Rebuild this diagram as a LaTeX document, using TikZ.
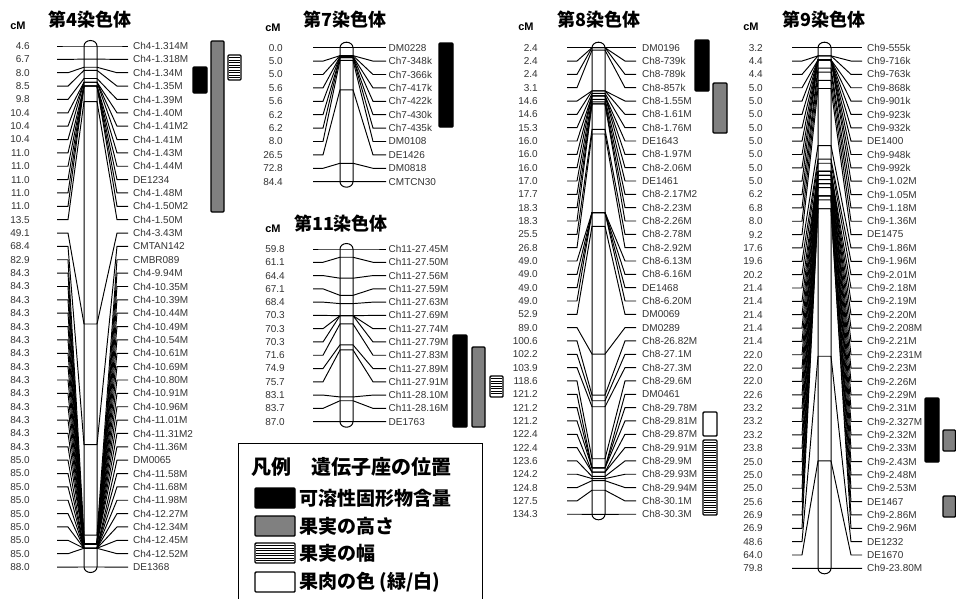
\documentclass[tikz,border=0pt]{standalone}
\usepackage{fontspec}
\setmainfont{Liberation Sans}
\newfontfamily\jpf{Noto Sans CJK JP}
\newcommand\fsz[1]{\fontsize{#1}{#1}\selectfont}
\tikzset{
  conn/.style={line width=0.95pt, draw=black},
  chbar/.style={line width=1pt, draw=black},
  cmlab/.style={font=\fsz{10}, text=black!80, inner sep=0pt, anchor=east},
  mklab/.style={font=\fsz{10}, text=black!80, inner sep=0pt, anchor=west},
  cmhead/.style={font=\fsz{11}\bfseries, inner sep=0pt},
  chtitle/.style={font=\jpf\bfseries\fsz{18}, inner sep=0pt},
  qtlbox/.style={line width=1.4pt, draw=black, rounded corners=1pt},
  blackq/.style={qtlbox, fill=black},
  grayq/.style={qtlbox, fill=black!50},
  whiteq/.style={qtlbox, fill=white},
  legtext/.style={font=\jpf\bfseries\fsz{19}, inner sep=0pt, anchor=west},
}
\newcommand\drawchrom[2]{%
  \foreach \cmv/\mk [count=\i from 0] in {#2} {
    \pgfmathsetmacro\ryy{\Yrow+\i*\Dy}
    \pgfmathsetmacro\byy{\Ybar+(\cmv-\Cmz)*\Slope}
    \draw[conn] (\Xa,\ryy) -- (\Xb,\ryy) -- (\Bl,\byy) -- (\Br,\byy) -- (\Xc,\ryy) -- (\Xd,\ryy);
    \node[cmlab] (#1c\i) at (\Xcm,\ryy) {\cmv};
    \node[mklab] (#1m\i) at (\Xlab,\ryy) {\mk};
  }
  \draw[chbar] (\Bl,\Btop) -- (\Bl,\Bbot)
     arc[start angle=180, end angle=360, x radius=6.5pt, y radius=5.5pt]
     -- (\Br,\Btop)
     arc[start angle=0, end angle=180, x radius=6.5pt, y radius=5.5pt] -- cycle;
}
\newcommand\stripebox[4]{%
  \draw[whiteq] (#1,#2) rectangle (#3,#4);
  \pgfmathtruncatemacro\nst{(#4-#2)/2.5-1}
  \foreach \k in {1,...,\nst} \draw[line width=0.8pt] (#1+1.2,#2+\k*2.5) -- (#3-1.2,#2+\k*2.5);
}
\newcommand\setgeom[8]{\def\Xa{#1}\def\Xb{#2}\def\Bl{#3}\def\Br{#4}\def\Xc{#5}\def\Xd{#6}\def\Xlab{#7}\def\Xcm{#8}}
\newcommand\setscale[6]{\def\Yrow{#1}\def\Dy{#2}\def\Ybar{#1}\def\Cmz{#3}\def\Slope{#4}\def\Btop{#5}\def\Bbot{#6}}
\begin{document}
\begin{tikzpicture}[x=1pt,y=-1pt]
\clip (0,0) rectangle (956,598);
\fill[white] (0,0) rectangle (956,598);

% ---------- Chromosome 4 ----------
\node[chtitle] (t4) at (90,20) {第4染色体};
\node[cmhead] (h4) at (18,26) {cM};
\setgeom{57}{68}{84}{97}{117}{128}{133}{30}
\setscale{46}{13.36}{4.6}{6.247}{46}{567}
\drawchrom{a}{4.6/Ch4-1.314M, 6.7/Ch4-1.318M, 8.0/Ch4-1.34M, 8.5/Ch4-1.35M, 9.8/Ch4-1.39M, 10.4/Ch4-1.40M, 10.4/Ch4-1.41M2, 10.4/Ch4-1.41M, 11.0/Ch4-1.43M, 11.0/Ch4-1.44M, 11.0/DE1234, 11.0/Ch4-1.48M, 11.0/Ch4-1.50M2, 13.5/Ch4-1.50M, 49.1/Ch4-3.43M, 68.4/CMTAN142, 82.9/CMBR089, 84.3/Ch4-9.94M, 84.3/Ch4-10.35M, 84.3/Ch4-10.39M, 84.3/Ch4-10.44M, 84.3/Ch4-10.49M, 84.3/Ch4-10.54M, 84.3/Ch4-10.61M, 84.3/Ch4-10.69M, 84.3/Ch4-10.80M, 84.3/Ch4-10.91M, 84.3/Ch4-10.96M, 84.3/Ch4-11.01M, 84.3/Ch4-11.31M2, 84.3/Ch4-11.36M, 85.0/DM0065, 85.0/Ch4-11.58M, 85.0/Ch4-11.68M, 85.0/Ch4-11.98M, 85.0/Ch4-12.27M, 85.0/Ch4-12.34M, 85.0/Ch4-12.45M, 85.0/Ch4-12.52M, 88.0/DE1368}
\draw[blackq] (193,67) rectangle (207,93);
\draw[grayq] (211,41) rectangle (224,212);
\stripebox{228}{55}{241}{80}

% ---------- Chromosome 7 ----------
\node[chtitle] (t7) at (345,20) {第7染色体};
\node[cmhead] (h7) at (273,28) {cM};
\setgeom{313}{323}{340}{353}{373}{386}{388.5}{283}
\setscale{47.7}{13.4}{0}{1.5877}{47.7}{181.7}
\drawchrom{b}{0.0/DM0228, 5.0/Ch7-348k, 5.0/Ch7-366k, 5.6/Ch7-417k, 5.6/Ch7-422k, 6.2/Ch7-430k, 6.2/Ch7-435k, 8.0/DM0108, 26.5/DE1426, 72.8/DM0818, 84.4/CMTCN30}
\draw[blackq] (439,43) rectangle (453,127);

% ---------- Chromosome 11 ----------
\node[chtitle] (t11) at (341,224) {第11染色体};
\node[cmhead] (h11) at (273,229) {cM};
\setgeom{313}{323}{340}{353}{373}{386}{388.5}{285}
\setscale{249}{13.28}{59.8}{6.349}{249}{421.7}
\drawchrom{c}{59.8/Ch11-27.45M, 61.1/Ch11-27.50M, 64.4/Ch11-27.56M, 67.1/Ch11-27.59M, 68.4/Ch11-27.63M, 70.3/Ch11-27.69M, 70.3/Ch11-27.74M, 70.3/Ch11-27.79M, 71.6/Ch11-27.83M, 74.9/Ch11-27.89M, 75.7/Ch11-27.91M, 83.1/Ch11-28.10M, 83.7/Ch11-28.16M, 87.0/DE1763}
\draw[blackq] (453,335) rectangle (467,427);
\draw[grayq] (472,347) rectangle (485,427);
\stripebox{490}{376}{503}{397}

% ---------- Chromosome 8 ----------
\node[chtitle] (t8) at (599,20) {第8染色体};
\node[cmhead] (h8) at (526,27) {cM};
\setgeom{567}{577}{592}{605}{625}{636}{642}{538}
\setscale{47.7}{13.33}{2.4}{3.5375}{47.7}{514.3}
\drawchrom{d}{2.4/DM0196, 2.4/Ch8-739k, 2.4/Ch8-789k, 3.1/Ch8-857k, 14.6/Ch8-1.55M, 14.6/Ch8-1.61M, 15.3/Ch8-1.76M, 16.0/DE1643, 16.0/Ch8-1.97M, 16.0/Ch8-2.06M, 17.0/DE1461, 17.7/Ch8-2.17M2, 18.3/Ch8-2.23M, 18.3/Ch8-2.26M, 25.5/Ch8-2.78M, 26.8/Ch8-2.92M, 49.0/Ch8-6.13M, 49.0/Ch8-6.16M, 49.0/DE1468, 49.0/Ch8-6.20M, 52.9/DM0069, 89.0/DM0289, 100.6/Ch8-26.82M, 102.2/Ch8-27.1M, 103.9/Ch8-27.3M, 118.6/Ch8-29.6M, 121.2/DM0461, 121.2/Ch8-29.78M, 121.2/Ch8-29.81M, 122.4/Ch8-29.87M, 122.4/Ch8-29.91M, 123.6/Ch8-29.9M, 124.2/Ch8-29.93M, 124.8/Ch8-29.94M, 127.5/Ch8-30.1M, 134.3/Ch8-30.3M}
\draw[blackq] (695,40) rectangle (709,91);
\draw[grayq] (713,83) rectangle (727,133);
\draw[whiteq] (703,412) rectangle (717,436);
\stripebox{703}{440}{717}{515}

% ---------- Chromosome 9 ----------
\node[chtitle] (t9) at (824,20) {第9染色体};
\node[cmhead] (h9) at (751,27) {cM};
\setgeom{792}{802}{818}{831}{851}{862}{867}{763}
\setscale{47.7}{13.35}{3.2}{6.796}{47.7}{568.3}
\drawchrom{e}{3.2/Ch9-555k, 4.4/Ch9-716k, 4.4/Ch9-763k, 5.0/Ch9-868k, 5.0/Ch9-901k, 5.0/Ch9-923k, 5.0/Ch9-932k, 5.0/DE1400, 5.0/Ch9-948k, 5.0/Ch9-992k, 5.0/Ch9-1.02M, 6.2/Ch9-1.05M, 6.8/Ch9-1.18M, 8.0/Ch9-1.36M, 9.2/DE1475, 17.6/Ch9-1.86M, 19.6/Ch9-1.96M, 20.2/Ch9-2.01M, 21.4/Ch9-2.18M, 21.4/Ch9-2.19M, 21.4/Ch9-2.20M, 21.4/Ch9-2.208M, 21.4/Ch9-2.21M, 22.0/Ch9-2.231M, 22.0/Ch9-2.23M, 22.0/Ch9-2.26M, 22.6/Ch9-2.29M, 23.2/Ch9-2.31M, 23.2/Ch9-2.327M, 23.2/Ch9-2.32M, 23.8/Ch9-2.33M, 25.0/Ch9-2.43M, 25.0/Ch9-2.48M, 25.0/Ch9-2.53M, 25.6/DE1467, 26.9/Ch9-2.86M, 26.9/Ch9-2.96M, 48.6/DE1232, 64.0/DE1670, 79.8/Ch9-23.80M}
\draw[blackq] (925,398) rectangle (939,462);
\draw[grayq] (943,430) rectangle (955.5,451);
\draw[grayq] (943,496) rectangle (955.5,517);

% ---------- Legend ----------
\draw[line width=1pt] (238,443) rectangle (482,603);
\node[legtext, font=\jpf\bfseries\fsz{20}] (lt) at (251,467) {凡例　遺伝子座の位置};
\draw[blackq] (255,488) rectangle (295,508);
\node[legtext] (l1) at (299,498) {可溶性固形物含量};
\draw[grayq] (255,516) rectangle (295,536);
\node[legtext] (l2) at (299,526) {果実の高さ};
\stripebox{255}{543}{295}{563}
\node[legtext] (l3) at (299,553) {果実の幅};
\draw[whiteq] (255,572) rectangle (295,592);
\node[legtext] (l4) at (299,582) {果肉の色 (緑/白)};
\end{tikzpicture}
\end{document}
